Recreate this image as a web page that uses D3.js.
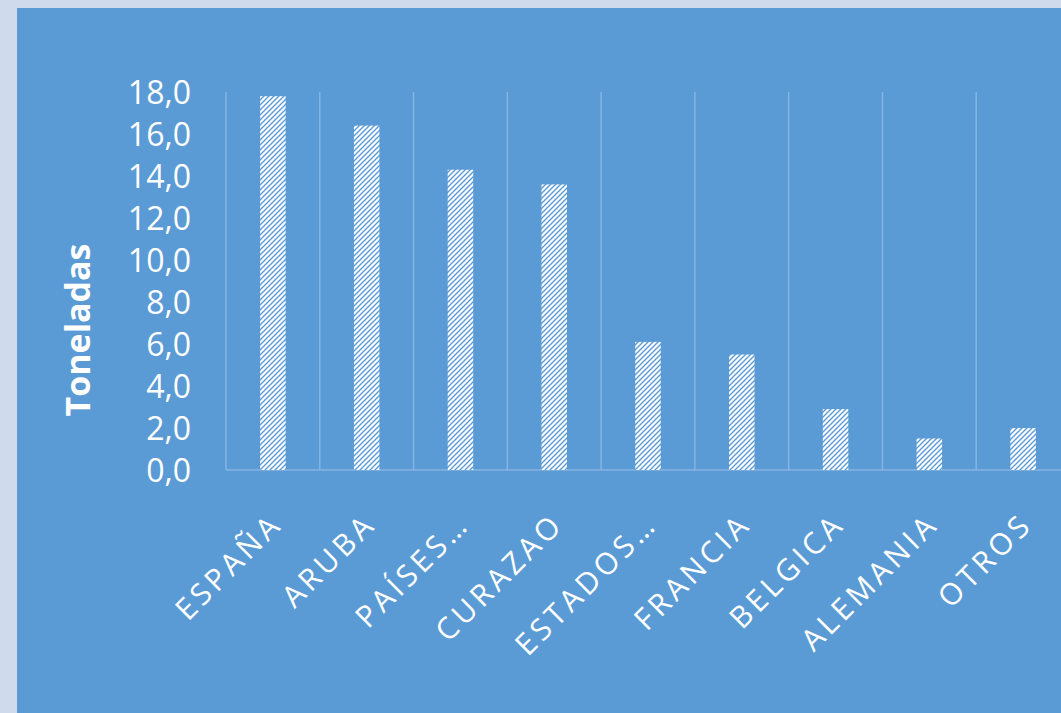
<!DOCTYPE html>
<html lang="es">
<head>
<meta charset="utf-8">
<title>Toneladas por destino</title>
<script src="https://cdnjs.cloudflare.com/ajax/libs/d3/7.8.5/d3.min.js"></script>
<style>
  html, body { margin: 0; padding: 0; background: #cfdbec; }
  svg { display: block; }
  .ylab text { font-family: "Open Sans", sans-serif; font-size: 32px; fill: #fff; }
  .xlab text { font-family: "Open Sans", sans-serif; font-size: 30px; fill: #fff; letter-spacing: 4px; }
  .ytitle { font-family: "Open Sans", sans-serif; font-size: 34px; font-weight: bold; fill: #fff; }
</style>
</head>
<body>
<div id="chart"></div>
<script>
// datos
const paises = ["ESPAÑA", "ARUBA", "PAÍSES…", "CURAZAO", "ESTADOS…", "FRANCIA", "BELGICA", "ALEMANIA", "OTROS"];
const toneladas = [17.8, 16.4, 14.3, 13.6, 6.1, 5.5, 2.9, 1.5, 2.0];
const yTicks = [0, 2, 4, 6, 8, 10, 12, 14, 16, 18];

const width = 1061, height = 713;
const margin = {left: 226, top: 92, bottom: 243};
const plotW = 844; // sigue un poco fuera de la ventana, como en el original

const svg = d3.select("#chart").append("svg")
    .attr("width", width)
    .attr("height", height);

// fondo del grafico
svg.append("rect")
    .attr("x", 17).attr("y", 8)
    .attr("width", width - 17).attr("height", height - 8)
    .attr("fill", "#5b9bd5");

// trama de rayas diagonales
const pat = svg.append("defs").append("pattern")
    .attr("id", "rayas")
    .attr("patternUnits", "userSpaceOnUse")
    .attr("width", 5).attr("height", 5);
pat.append("rect").attr("width", 5).attr("height", 5).attr("fill", "#fff");
pat.append("path")
    .attr("d", "M-1,1 l2,-2 M0,5 l5,-5 M4,6 l2,-2")
    .attr("stroke", "#5b9bd5")
    .attr("stroke-width", 1.4);

const x = d3.scaleBand()
    .domain(paises)
    .range([margin.left, margin.left + plotW]);

const y = d3.scaleLinear()
    .domain([0, 18])
    .range([height - margin.bottom, margin.top]);

const fmt = d3.formatLocale({decimal: ",", thousands: ".", grouping: [3], currency: ["", "€"]}).format(".1f");

// lineas verticales entre categorias
const bordes = paises.map(d => x(d)).concat([x.range()[1]]);
svg.append("g").selectAll("line")
    .data(bordes)
    .enter().append("line")
    .attr("x1", d => d).attr("x2", d => d)
    .attr("y1", y(18)).attr("y2", y(0))
    .attr("stroke", "#86b4e2")
    .attr("stroke-width", 1.5);

// eje base
svg.append("line")
    .attr("x1", margin.left).attr("x2", margin.left + plotW)
    .attr("y1", y(0)).attr("y2", y(0))
    .attr("stroke", "#86b4e2")
    .attr("stroke-width", 1.5);

// barras
const barW = 25.5;
svg.append("g").selectAll("rect")
    .data(toneladas)
    .enter().append("rect")
    .attr("x", (d, i) => x(paises[i]) + x.bandwidth() / 2 - barW / 2)
    .attr("y", d => y(d))
    .attr("width", barW)
    .attr("height", d => y(0) - y(d))
    .attr("fill", "url(#rayas)");

// etiquetas eje y
svg.append("g").attr("class", "ylab")
    .selectAll("text")
    .data(yTicks)
    .enter().append("text")
    .attr("x", 191)
    .attr("y", d => y(d))
    .attr("dy", "0.36em")
    .attr("text-anchor", "end")
    .text(d => fmt(d));

// etiquetas eje x, giradas
svg.append("g").attr("class", "xlab")
    .selectAll("text")
    .data(paises)
    .enter().append("text")
    .attr("text-anchor", "end")
    .attr("transform", d => "translate(" + (x(d) + x.bandwidth() / 2 + 11) + "," + (y(0) + 56) + ") rotate(-45)")
    .text(d => d);

// titulo eje y
svg.append("text")
    .attr("class", "ytitle")
    .attr("transform", "translate(90," + 330 + ") rotate(-90)")
    .attr("text-anchor", "middle")
    .text("Toneladas");
</script>
</body>
</html>
